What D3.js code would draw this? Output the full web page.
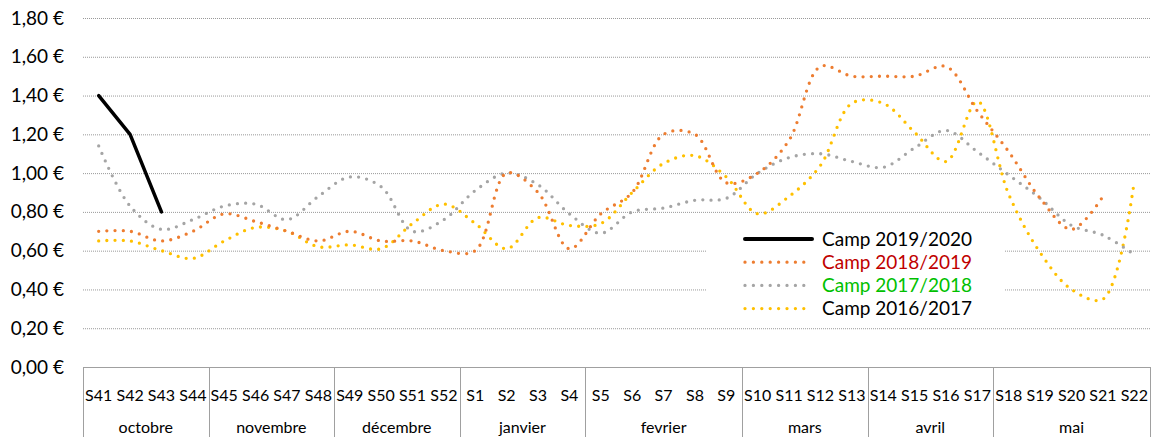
<!DOCTYPE html>
<html>
<head>
<meta charset="utf-8">
<script src="https://cdn.jsdelivr.net/npm/d3@7"></script>
<style>
  body { margin: 0; background: #fff; }
  svg { display: block; font-family: Lato, 'Open Sans', sans-serif; }
</style>
</head>
<body>
<div id="chart"></div>
<script>
const weeks = ['S41', 'S42', 'S43', 'S44', 'S45', 'S46', 'S47', 'S48', 'S49', 'S50', 'S51', 'S52',
  'S1', 'S2', 'S3', 'S4', 'S5', 'S6', 'S7', 'S8', 'S9', 'S10', 'S11', 'S12', 'S13',
  'S14', 'S15', 'S16', 'S17', 'S18', 'S19', 'S20', 'S21', 'S22'];
const monthNames = ['octobre', 'novembre', 'décembre', 'janvier', 'fevrier', 'mars', 'avril', 'mai'];
const monthLengths = [4, 4, 4, 4, 5, 4, 4, 5];
const yTicks = [0, 0.2, 0.4, 0.6, 0.8, 1.0, 1.2, 1.4, 1.6, 1.8];

const camp1920 = [1.40, 1.20, 0.80];
const camp1819 = [0.70, 0.70, 0.65, 0.70, 0.79, 0.75, 0.70, 0.65, 0.70, 0.65, 0.65, 0.60,
  0.60, 1.00, 0.90, 0.61, 0.79, 0.90, 1.20, 1.20, 0.95, 1.00, 1.17, 1.55, 1.50,
  1.50, 1.50, 1.55, 1.32, 1.11, 0.87, 0.71, 0.88];
const camp1718 = [1.14, 0.83, 0.71, 0.76, 0.83, 0.84, 0.76, 0.88, 0.98, 0.93, 0.70, 0.76,
  0.91, 1.00, 0.94, 0.79, 0.69, 0.80, 0.82, 0.86, 0.87, 1.00, 1.08, 1.10, 1.06,
  1.03, 1.13, 1.22, 1.11, 0.99, 0.87, 0.73, 0.68, 0.58];
const camp1617 = [0.65, 0.65, 0.60, 0.56, 0.65, 0.72, 0.70, 0.62, 0.63, 0.61, 0.74, 0.84,
  0.74, 0.61, 0.77, 0.73, 0.74, 0.90, 1.05, 1.09, 0.98, 0.79, 0.88, 1.04, 1.36,
  1.36, 1.21, 1.06, 1.37, 0.89, 0.59, 0.40, 0.35, 0.96];

const legendNames = ['Camp 2019/2020', 'Camp 2018/2019', 'Camp 2017/2018', 'Camp 2016/2017'];

const WIDTH = 1158;
const HEIGHT = 437;
const plotLeft = 83, plotRight = 1150, plotTop = 18, plotBottom = 367;

const series = [
  { name: legendNames[3], values: camp1617, color: '#ffc000', text: '#000000', dotted: true },
  { name: legendNames[2], values: camp1718, color: '#a5a5a5', text: '#00c000', dotted: true },
  { name: legendNames[1], values: camp1819, color: '#ed7d31', text: '#c00000', dotted: true },
  { name: legendNames[0], values: camp1920, color: '#000000', text: '#000000', dotted: false }
];

const svg = d3.select('#chart').append('svg')
  .attr('width', WIDTH)
  .attr('height', HEIGHT);

//scales
const x = d3.scaleBand().domain(weeks).range([plotLeft, plotRight]).padding(0);
const y = d3.scaleLinear().domain([0, 1.8]).range([plotBottom, plotTop]);
const cx = w => x(w) + x.bandwidth() / 2;

//gridlines
svg.append('g')
  .attr('transform', `translate(${plotLeft},0)`)
  .call(d3.axisLeft(y).tickValues(yTicks.filter(d => d > 0)).tickSize(-(plotRight - plotLeft)).tickFormat(''))
  .call(g => g.select('.domain').remove())
  .call(g => g.selectAll('line')
    .attr('stroke', '#999')
    .attr('stroke-width', 1)
    .attr('stroke-dasharray', '1,1'));

//y labels
svg.append('g')
  .attr('transform', 'translate(64,0)')
  .call(d3.axisLeft(y).tickValues(yTicks).tickSize(0).tickPadding(0)
    .tickFormat(d => d.toFixed(2).replace('.', ',') + ' €'))
  .call(g => g.select('.domain').remove())
  .call(g => g.selectAll('text')
    .attr('font-size', 19)
    .attr('font-family', 'Lato, sans-serif')
    .attr('fill', '#000'));

//x axis table
const table = svg.append('g').attr('stroke', '#a0a0a0').attr('stroke-width', 1);
table.append('line')
  .attr('x1', plotLeft).attr('x2', plotRight)
  .attr('y1', plotBottom + 0.5).attr('y2', plotBottom + 0.5);

let start = 0;
const monthPos = [];
monthLengths.forEach((n, i) => {
  const first = weeks[start];
  const last = weeks[start + n - 1];
  monthPos.push({ name: monthNames[i], cx: (x(first) + x(last) + x.bandwidth()) / 2, x0: x(first) });
  start += n;
});

table.selectAll('line.sep')
  .data(monthPos.map(d => d.x0).concat([plotRight]))
  .enter().append('line')
  .attr('class', 'sep')
  .attr('x1', d => Math.round(d) + 0.5).attr('x2', d => Math.round(d) + 0.5)
  .attr('y1', plotBottom).attr('y2', HEIGHT);

svg.append('g')
  .attr('transform', `translate(0,${plotBottom})`)
  .call(d3.axisBottom(x).tickSize(0).tickPadding(23))
  .call(g => g.select('.domain').remove())
  .call(g => g.selectAll('text')
    .attr('font-size', 16)
    .attr('font-family', 'Lato, sans-serif')
    .attr('fill', '#000'));

svg.append('g').selectAll('text')
  .data(monthPos)
  .enter().append('text')
  .attr('x', d => d.cx)
  .attr('y', 433)
  .attr('text-anchor', 'middle')
  .attr('font-size', 16)
  .attr('fill', '#000')
  .text(d => d.name);

//lines
const smooth = d3.line()
  .defined(d => d != null)
  .x((d, i) => cx(weeks[i]))
  .y(d => y(d))
  .curve(d3.curveCatmullRom.alpha(0.5));

const straight = d3.line()
  .x((d, i) => cx(weeks[i]))
  .y(d => y(d));

svg.append('g').selectAll('path')
  .data(series)
  .enter().append('path')
  .attr('fill', 'none')
  .attr('stroke', d => d.color)
  .attr('stroke-width', d => d.dotted ? 3.3 : 3.5)
  .attr('stroke-linecap', 'round')
  .attr('stroke-linejoin', 'round')
  .attr('stroke-dasharray', d => d.dotted ? '0,8.2' : null)
  .attr('d', d => d.dotted ? smooth(d.values) : straight(d.values));

//legend
const legend = svg.append('g');
legend.append('rect')
  .attr('x', 707).attr('y', 222)
  .attr('width', 297).attr('height', 98)
  .attr('fill', '#fff');

const rows = legend.selectAll('g.row')
  .data(series.slice().reverse())
  .enter().append('g')
  .attr('class', 'row')
  .attr('transform', (d, i) => `translate(0,${239 + i * 23.2})`);

rows.append('line')
  .attr('x1', 745).attr('x2', 812)
  .attr('y1', 0).attr('y2', 0)
  .attr('stroke', d => d.color)
  .attr('stroke-width', d => d.dotted ? 3.3 : 4)
  .attr('stroke-linecap', 'round')
  .attr('stroke-dasharray', d => d.dotted ? '0,8.4' : null);

rows.append('text')
  .attr('x', 822)
  .attr('y', 0)
  .attr('dy', '0.35em')
  .attr('font-size', 19)
  .attr('fill', d => d.text)
  .text(d => d.name);
</script>
</body>
</html>
